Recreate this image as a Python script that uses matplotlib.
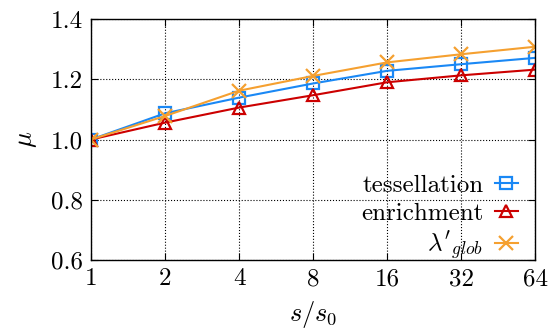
import numpy as np
import matplotlib
matplotlib.use("Agg")
import matplotlib.pyplot as plt

plt.rcParams['font.family'] = 'serif'
plt.rcParams['font.serif'] = ['cmr10']
plt.rcParams['mathtext.fontset'] = 'cm'
plt.rcParams['axes.unicode_minus'] = False

# s/s0 values and mu for each method
scale = [1, 2, 4, 8, 16, 32, 64]
tessellation = [1.0, 1.087, 1.139, 1.186, 1.228, 1.250, 1.271]
enrichment = [1.0, 1.056, 1.106, 1.147, 1.190, 1.213, 1.232]
lambda_glob = [1.0, 1.078, 1.162, 1.211, 1.256, 1.283, 1.308]

xticklabels = ['1', '2', '4', '8', '16', '32', '64']
yticks = [0.6, 0.8, 1.0, 1.2, 1.4]

fig = plt.figure(figsize=(5.55, 3.31), dpi=100)
ax = fig.add_axes([0.164, 0.2145, 0.800, 0.728])

ax.plot(scale, tessellation, color='#1a88f5', lw=1.5, marker='s', ms=9,
        mfc='none', mew=1.6, label='tessellation')
ax.plot(scale, enrichment, color='#cc0000', lw=1.5, marker='^', ms=9,
        mfc='none', mew=1.6, label='enrichment')
ax.plot(scale, lambda_glob, color='#f5a030', lw=1.5, marker='x', ms=10,
        mew=1.6, label=r"$\lambda'_{glob}$")

ax.set_xscale('log', base=2)
ax.set_xlim(1, 64)
ax.set_ylim(0.6, 1.4)
ax.set_xticks(scale)
ax.set_xticklabels(xticklabels)
ax.minorticks_off()
ax.set_yticks(yticks)
ax.set_yticklabels(['%.1f' % v for v in yticks])
ax.tick_params(direction='in', top=True, right=True, labelsize=18, length=5, pad=6)
ax.grid(True, color='black', linestyle=':', linewidth=0.8)
for s in ax.spines.values():
    s.set_linewidth(1.0)

ax.set_xlabel(r'$s/s_0$', fontsize=19, labelpad=6)
ax.set_ylabel(r'$\mu$', fontsize=19, labelpad=8)

ax.legend(loc='lower right', markerfirst=False, frameon=False, fontsize=18,
          handlelength=0.95, handletextpad=0.45, labelspacing=0.2,
          borderaxespad=0.0, bbox_to_anchor=(0.985, -0.05))

fig.savefig('out.png', dpi=100)
